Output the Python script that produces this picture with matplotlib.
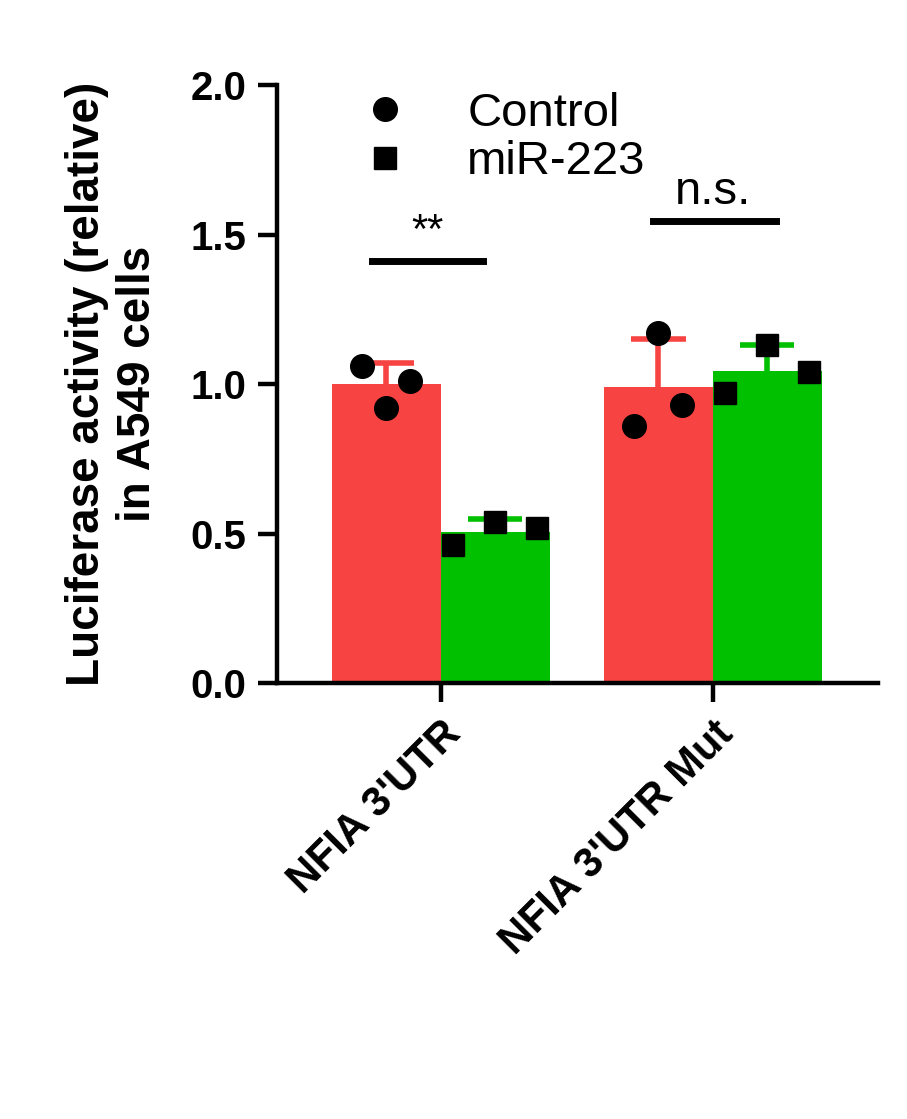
import matplotlib.pyplot as plt

plt.rcParams['font.family'] = ['Liberation Sans', 'DejaVu Sans']

groups = ["NFIA 3'UTR", "NFIA 3'UTR Mut"]
ctrl_mean = [1.0, 0.99]
ctrl_sd = [0.07, 0.16]
mir_mean = [0.505, 1.045]
mir_sd = [0.045, 0.085]
ctrl_pts = [[1.06, 0.92, 1.01], [0.86, 1.17, 0.93]]
mir_pts = [[0.46, 0.54, 0.52], [0.97, 1.13, 1.04]]
red, green = '#f84343', '#00c000'
w = 0.4

fig = plt.figure(figsize=(9.07, 11.19), dpi=100)
ax = fig.add_axes([0.305, 0.3896, 0.663, 0.5344])

for i in range(2):
    for x, m, sd, c in [(i - w / 2, ctrl_mean[i], ctrl_sd[i], red),
                        (i + w / 2, mir_mean[i], mir_sd[i], green)]:
        ax.bar(x, m, w, color=c, zorder=1)
        ax.vlines(x, m, m + sd, color=c, lw=4, zorder=2)
        ax.hlines(m + sd, x - 0.1, x + 0.1, color=c, lw=4, zorder=2)
    for j, v in enumerate(ctrl_pts[i]):
        ax.plot(i - w / 2 + (j - 1) * 0.088, v, 'o', color='black', ms=17, zorder=3,
                label='Control' if i == 0 and j == 0 else None)
    for j, v in enumerate(mir_pts[i]):
        ax.plot(i + w / 2 + (j - 1) * 0.155, v, 's', color='black', ms=16, zorder=3,
                label='miR-223' if i == 0 and j == 0 else None)

# significance bars
ax.plot([-0.254, 0.154], [1.41, 1.41], color='black', lw=5)
ax.text(-0.05, 1.44, '**', ha='center', va='bottom', fontsize=30)
ax.plot([0.779, 1.232], [1.545, 1.545], color='black', lw=5)
ax.text(1.0, 1.57, 'n.s.', ha='center', va='bottom', fontsize=34)

ax.set_xlim(-0.603, 1.607)
ax.set_ylim(0, 2.0)
ax.set_yticks([0, 0.5, 1.0, 1.5, 2.0])
ax.set_yticklabels(['0.0', '0.5', '1.0', '1.5', '2.0'], fontsize=29, fontweight='bold')
ax.set_xticks([0, 1])
ax.set_xticklabels(groups, rotation=45, ha='right', rotation_mode='anchor',
                   fontsize=30, fontweight='bold')
ax.set_ylabel('Luciferase activity (relative)\nin A549 cells', fontsize=33,
              fontweight='bold', labelpad=22)
for s in ['top', 'right']:
    ax.spines[s].set_visible(False)
for s in ['left', 'bottom']:
    ax.spines[s].set_linewidth(3.2)
ax.tick_params(width=3.2, length=14, pad=8)

ax.legend(loc='upper left', bbox_to_anchor=(0.05, 1.06), frameon=False,
          fontsize=34, handletextpad=1.0, labelspacing=0.1, handlelength=1.5)

fig.savefig('out.png', dpi=100)
